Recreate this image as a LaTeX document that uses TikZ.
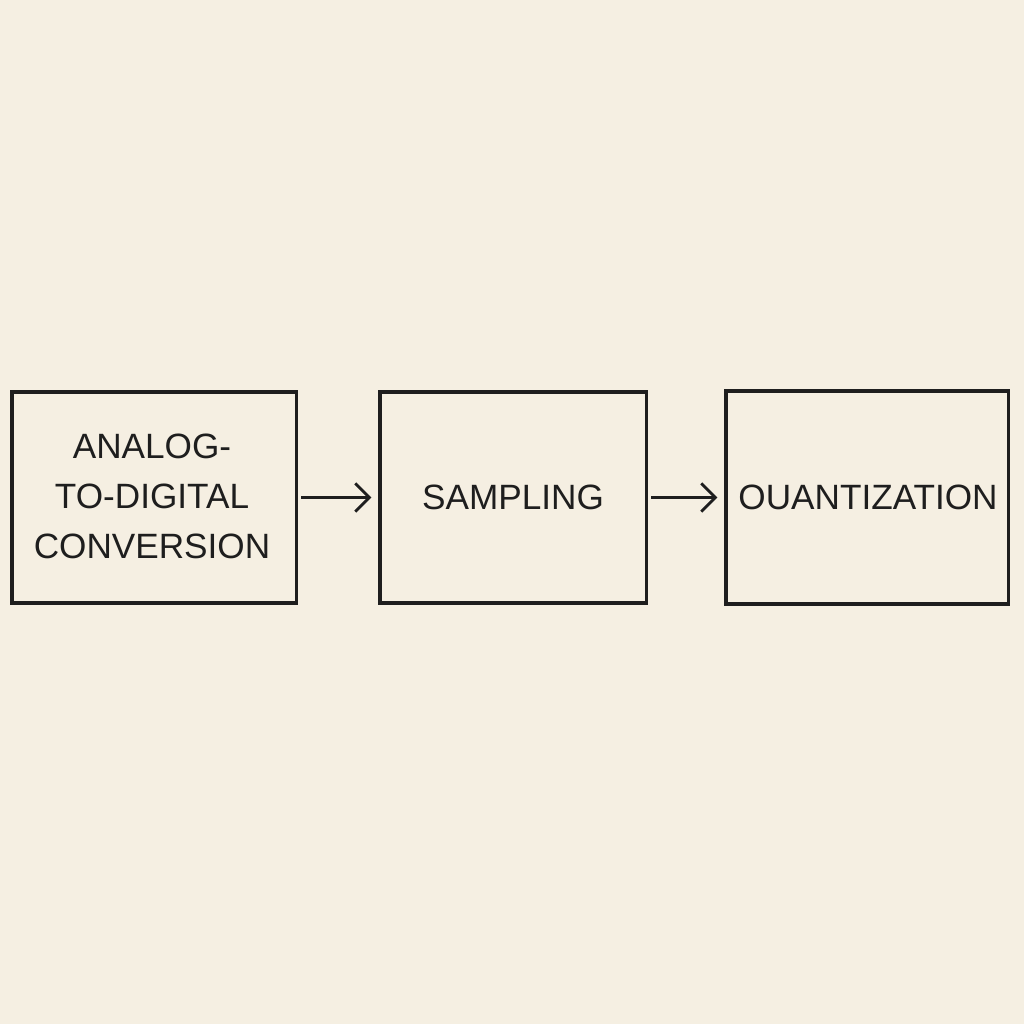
\documentclass[tikz,border=0pt]{standalone}
\usepackage{fontspec}
\setmainfont{Liberation Sans}
\usetikzlibrary{arrows.meta}
\definecolor{bg}{HTML}{F5EFE2}
\definecolor{ink}{HTML}{1E1E1E}
\tikzset{
  blk/.style={draw=ink, line width=0.9pt, inner sep=0pt},
  lbl/.style={text=ink, font=\fontsize{10}{14.2}\selectfont, align=center},
  conn/.style={draw=ink, line width=0.8pt, shorten >=2pt, shorten <=1pt, -{Straight Barb[length=4pt,width=8pt]}}
}
\begin{document}
\begin{tikzpicture}[x=0.01cm,y=-0.01cm]
\fill[bg] (0,0) rectangle (1024,1024);
\useasboundingbox (0,0) rectangle (1024,1024);
\node[blk, minimum width=2.84cm, minimum height=2.11cm] (a) at (154,497.5) {};
\node[blk, minimum width=2.66cm, minimum height=2.11cm] (b) at (513,497.5) {};
\node[blk, minimum width=2.82cm, minimum height=2.13cm] (c) at (867,497.5) {};
\node[lbl] at (152,496) {ANALOG-\\TO-DIGITAL\\CONVERSION};
\node[lbl] at (513,497) {SAMPLING};
\node[lbl] at (868,497) {OUANTIZATION};
\draw[conn] (a.east) -- (b.west);
\draw[conn] (b.east) -- (c.west);
\end{tikzpicture}
\end{document}
